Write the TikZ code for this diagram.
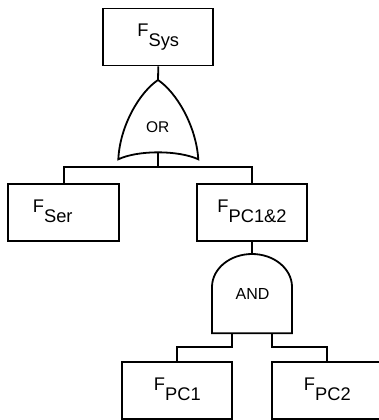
\documentclass[tikz,border=0pt]{standalone}
\usepackage{fontspec}
\setmainfont{Liberation Sans}
\newcommand\lowsub[1]{\raisebox{-10.4pt}{#1}}
\tikzset{
  ln/.style={line width=1.8pt},
  evbox/.style={ln, draw, rectangle, inner sep=0pt, minimum width=110pt, minimum height=57pt,
    font=\fontsize{18.3}{18}\selectfont, text height=13pt, text depth=14pt},
  gatelabel/.style={inner sep=0pt, font=\fontsize{15.5}{16}\selectfont},
}
\begin{document}
\begin{tikzpicture}[x=1pt,y=-1pt]
\useasboundingbox (0,0) rectangle (379,420);
\clip (0,0) rectangle (379,420);
% event boxes
\node[evbox] (fsys) at (158.3,37) {F\lowsub{Sys}};
\node[evbox, minimum width=110.7pt] (fser) at (63.7,212.5) {F\lowsub{Ser}\hspace*{22pt}};
\node[evbox] (fpc12) at (252,212.5) {F\lowsub{PC1\&2}};
\node[evbox] (fpc1) at (177.3,390.5) {F\lowsub{PC1}};
\node[evbox] (fpc2) at (327.3,390.5) {F\lowsub{PC2}};
% OR gate
\coordinate (orTop) at (158,80);
\coordinate (orBL) at (118.3,159.3);
\coordinate (orBR) at (198.3,159.3);
\coordinate (orBot) at (158.3,152.2);
\draw[ln] (orTop) .. controls (140,92) and (120,125) .. (orBL)
  .. controls (138,150) and (178,150) .. (orBR)
  .. controls (196,125) and (176,92) .. (orTop) -- cycle;
\node[gatelabel] (orlab) at (157.7,127) {OR};
% AND gate
\coordinate (andTop) at (252,254);
\coordinate (andL) at (232.3,333.3);
\coordinate (andR) at (272.3,333.3);
\draw[ln] (212,333.3) -- (212,287)
  .. controls (212,268.8) and (229.9,254) .. (andTop)
  .. controls (274.1,254) and (292,268.8) .. (292,287)
  -- (292,333.3) -- cycle;
\node[gatelabel, font=\fontsize{16}{16}\selectfont] (andlab) at (252.5,294) {AND};
% connectors
\coordinate (orbus) at (158.3,167);
\coordinate (busL) at (232.3,347.3);
\coordinate (busR) at (272.3,347.3);
\draw[ln] (fsys.south) -- (orTop);
\draw[ln] (orBot) -- (orbus);
\draw[ln] (fser.north) |- (orbus) -| (fpc12.north);
\draw[ln] (fpc12.south) -- (andTop);
\draw[ln] (andL) -- (busL) -| (fpc1.north);
\draw[ln] (andR) -- (busR) -| (fpc2.north);
\end{tikzpicture}
\end{document}
